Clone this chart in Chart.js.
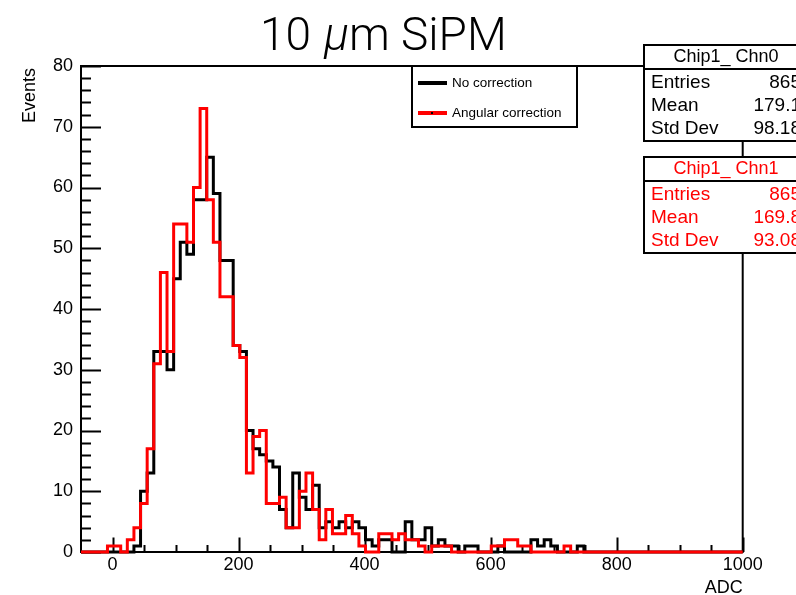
<!DOCTYPE html>
<html>
<head>
<meta charset="utf-8">
<script src="https://cdn.jsdelivr.net/npm/chart.js@4.4.0/dist/chart.umd.min.js"></script>
<style>
  html, body { margin: 0; padding: 0; background: #fff; }
  #wrap { position: relative; width: 796px; height: 595px; }
</style>
</head>
<body>
<div id="wrap"><canvas id="histChart" width="796" height="595"></canvas></div>
<script>
// Histogram binning (100 bins from -50 to 1000)
const xMin = -50;
const xMax = 1000;
const binWidth = 10.5;

// Events per bin
const noCorrection = [
  0, 0, 0, 0, 0, 0, 0, 0, 1, 10,
  13, 33, 33, 30, 45, 51, 49, 58, 58, 65,
  59, 48, 48, 34, 33, 20, 17, 16, 15, 14,
  7, 4, 13, 9, 7, 11, 4, 5, 4, 5,
  4, 5, 4, 2, 1, 2, 2, 0, 0, 5,
  2, 2, 4, 1, 2, 1, 1, 0, 1, 1,
  0, 0, 0, 1, 0, 0, 0, 0, 2, 1,
  2, 1, 0, 0, 0, 1, 0, 0, 0, 0,
  0, 0, 0, 0, 0, 0, 0, 0, 0, 0,
  0, 0, 0, 0, 0, 0, 0, 0, 0, 0
];
const angularCorrection = [
  0, 0, 0, 0, 1, 1, 0, 2, 4, 8,
  17, 31, 46, 33, 54, 54, 51, 60, 73, 58,
  51, 42, 42, 34, 32, 13, 19, 20, 8, 8,
  9, 4, 4, 10, 13, 7, 2, 7, 3, 3,
  6, 3, 1, 0, 0, 3, 3, 2, 3, 2,
  2, 1, 0, 1, 1, 1, 0, 0, 0, 0,
  0, 0, 1, 1, 2, 2, 1, 1, 0, 0,
  0, 0, 0, 1, 0, 0, 0, 0, 0, 0,
  0, 0, 0, 0, 0, 0, 0, 0, 0, 0,
  0, 0, 0, 0, 0, 0, 0, 0, 0, 0
];

const xTicks = [0, 200, 400, 600, 800, 1000];
const yTicks = [0, 10, 20, 30, 40, 50, 60, 70, 80];
const legendLabels = ['No correction', 'Angular correction'];
const statsChn0 = [['Entries', '865'], ['Mean', '179.1'], ['Std Dev', '98.18']];
const statsChn1 = [['Entries', '865'], ['Mean', '169.8'], ['Std Dev', '93.08']];

const FONT = '"Liberation Sans", Arial, Helvetica, sans-serif';
const TITLE_FONT = 'Roboto, "Liberation Sans", sans-serif';
const RED = '#ff0000';

// one point per lower bin edge, plus the closing upper edge
function toSteps(counts) {
  const pts = counts.map((c, i) => ({ x: xMin + i * binWidth, y: c }));
  pts.push({ x: xMin + counts.length * binWidth, y: counts[counts.length - 1] });
  return pts;
}

// ROOT style frame with inward ticks
const frameTicks = {
  id: 'frameTicks',
  beforeDatasetsDraw(chart) {
    const { ctx, chartArea: a, scales: { x, y } } = chart;
    ctx.save();
    ctx.strokeStyle = '#000';
    ctx.lineWidth = 2;
    ctx.strokeRect(a.left, a.top, a.right - a.left, a.bottom - a.top);
    ctx.beginPath();
    for (let v = 0; v <= xMax; v += 50) {
      const px = Math.round(x.getPixelForValue(v)) + 0.5;
      const len = v % 200 === 0 ? 14.5 : 7;
      ctx.moveTo(px, a.bottom);
      ctx.lineTo(px, a.bottom - len);
    }
    for (let v = 0; v <= 80; v += 2) {
      const py = Math.round(y.getPixelForValue(v)) + 0.5;
      const len = v % 10 === 0 ? 20 : 10;
      ctx.moveTo(a.left, py);
      ctx.lineTo(a.left + len, py);
    }
    ctx.stroke();
    ctx.restore();
  }
};

function statsBox(ctx, top, title, rows, color) {
  const left = 644, right = 812, h = 96;
  ctx.fillStyle = '#fff';
  ctx.fillRect(left, top, right - left, h);
  ctx.strokeStyle = '#000';
  ctx.lineWidth = 2;
  ctx.strokeRect(left, top, right - left, h);
  ctx.beginPath();
  ctx.moveTo(left, top + 24);
  ctx.lineTo(right, top + 24);
  ctx.stroke();
  ctx.fillStyle = color;
  ctx.textBaseline = 'middle';
  ctx.font = '18px ' + FONT;
  ctx.textAlign = 'center';
  ctx.fillText(title, 726, top + 12.5);
  ctx.font = '19px ' + FONT;
  rows.forEach((r, i) => {
    const cy = top + 37.5 + i * 23;
    ctx.textAlign = 'left';
    ctx.fillText(r[0], 651, cy);
    ctx.textAlign = 'right';
    ctx.fillText(r[1], 801, cy);
  });
}

const decorations = {
  id: 'decorations',
  afterDraw(chart) {
    const { ctx, chartArea: a } = chart;
    ctx.save();

    // title: 10 μm SiPM
    ctx.fillStyle = '#000';
    ctx.textBaseline = 'alphabetic';
    ctx.textAlign = 'left';
    ctx.font = '300 46px ' + TITLE_FONT;
    ctx.fillText('10', 260, 50);
    ctx.font = 'italic 300 46px ' + TITLE_FONT;
    ctx.fillText('\u03bc', 324, 50);
    ctx.font = '300 46px ' + TITLE_FONT;
    ctx.fillText('m SiPM', 349, 50);

    // axis titles
    ctx.font = '18px ' + FONT;
    ctx.textAlign = 'right';
    ctx.textBaseline = 'middle';
    ctx.fillText('ADC', a.right, 588);
    ctx.save();
    ctx.translate(30, 68);
    ctx.rotate(-Math.PI / 2);
    ctx.textAlign = 'right';
    ctx.fillText('Events', 0, 0);
    ctx.restore();

    // legend
    ctx.fillStyle = '#fff';
    ctx.fillRect(412, a.top, 165, 61);
    ctx.strokeStyle = '#000';
    ctx.lineWidth = 2;
    ctx.strokeRect(412, a.top, 165, 61);
    ctx.lineWidth = 4;
    ctx.beginPath();
    ctx.moveTo(418, 83);
    ctx.lineTo(447, 83);
    ctx.stroke();
    ctx.strokeStyle = RED;
    ctx.beginPath();
    ctx.moveTo(418, 113);
    ctx.lineTo(447, 113);
    ctx.stroke();
    ctx.fillStyle = '#000';
    ctx.fillRect(431, 112, 2, 2);
    ctx.font = '13.5px ' + FONT;
    ctx.textAlign = 'left';
    ctx.fillText(legendLabels[0], 452, 83);
    ctx.fillText(legendLabels[1], 452, 113);

    // stats boxes
    statsBox(ctx, 45, 'Chip1_ Chn0', statsChn0, '#000');
    statsBox(ctx, 157, 'Chip1_ Chn1', statsChn1, RED);
    ctx.restore();
  }
};

new Chart(document.getElementById('histChart'), {
  type: 'line',
  data: {
    datasets: [
      {
        label: legendLabels[0],
        data: toSteps(noCorrection),
        borderColor: '#000',
        borderWidth: 3,
        stepped: 'before',
        pointRadius: 0,
        fill: false,
        clip: 6,
        borderJoinStyle: 'miter',
        order: 1
      },
      {
        label: legendLabels[1],
        data: toSteps(angularCorrection),
        borderColor: RED,
        borderWidth: 3,
        stepped: 'before',
        pointRadius: 0,
        fill: false,
        clip: 6,
        borderJoinStyle: 'miter',
        order: 0
      }
    ]
  },
  options: {
    responsive: false,
    animation: false,
    devicePixelRatio: 1,
    layout: { padding: { left: 0, top: 66, right: 53.3, bottom: 0 } },
    plugins: {
      legend: { display: false },
      title: { display: false },
      tooltip: { enabled: false }
    },
    scales: {
      x: {
        type: 'linear',
        min: xMin,
        max: xMax,
        grid: { display: false, drawTicks: false },
        border: { display: false },
        afterBuildTicks: (scale) => { scale.ticks = xTicks.map(v => ({ value: v })); },
        afterFit: (scale) => { scale.height = 43; },
        ticks: {
          color: '#000',
          padding: 2,
          maxRotation: 0,
          autoSkip: false,
          callback: (v) => String(v),
          font: { family: FONT, size: 18 }
        }
      },
      y: {
        min: 0,
        max: 80,
        grid: { display: false, drawTicks: false },
        border: { display: false },
        afterBuildTicks: (scale) => { scale.ticks = yTicks.map(v => ({ value: v })); },
        afterFit: (scale) => { scale.width = 81; },
        ticks: {
          color: '#000',
          padding: 8,
          autoSkip: false,
          callback: (v) => String(v),
          font: { family: FONT, size: 18 }
        }
      }
    }
  },
  plugins: [frameTicks, decorations]
});
</script>
</body>
</html>
